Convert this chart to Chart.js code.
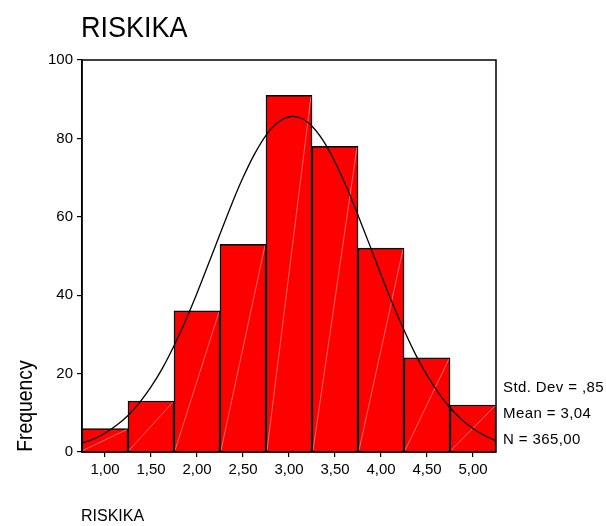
<!DOCTYPE html>
<html><head><meta charset="utf-8">
<script src="https://cdn.jsdelivr.net/npm/chart.js@4"></script>
<style>html,body{margin:0;padding:0;background:#fff;} #wrap{position:relative;width:606px;height:526px;}</style>
</head><body><div id="wrap"><canvas id="c" width="606" height="526"></canvas></div>
<script>
const chartTitle = 'RISKIKA';
const xAxisLabel = 'RISKIKA';
const yAxisLabel = 'Frequency';
const binLabels = ['1,00','1,50','2,00','2,50','3,00','3,50','4,00','4,50','5,00'];
const frequencies = [6, 13, 36, 53, 91, 78, 52, 24, 12];
// normal curve (x in data units, y in frequency)
const curveX = [0.75,0.875,1.0,1.125,1.25,1.375,1.5,1.625,1.75,1.875,2.0,2.125,2.25,2.375,2.5,2.625,2.75,2.875,3.0,3.125,3.25,3.375,3.5,3.625,3.75,3.875,4.0,4.125,4.25,4.375,4.5,4.625,4.75,4.875,5.0,5.125,5.25];
const curveY = [2.3,3.3,4.8,6.8,9.3,12.6,16.6,21.4,27.1,33.5,40.5,48.0,55.6,63.1,70.0,76.0,80.8,84.0,85.5,85.2,83.1,79.3,74.0,67.6,60.4,52.9,45.3,37.9,31.1,24.9,19.6,15.1,11.3,8.3,6.0,4.2,2.9];
const statsLines = ['Std. Dev = ,85', 'Mean = 3,04', 'N = 365,00'];
const yMin = 0, yMax = 100, yStep = 20;
const xMin = 0.75, xMax = 5.25;

const FONT = "'Liberation Sans', Arial, Helvetica, sans-serif";

const decor = {
  id: 'decor',
  afterDatasetDraw(chart, args) {
    if (args.index !== 0) return;
    const ctx = chart.ctx;
    const meta = chart.getDatasetMeta(0);
    ctx.save();
    ctx.strokeStyle = 'rgba(255,255,255,0.5)';
    ctx.lineWidth = 0.8;
    meta.data.forEach(el => {
      const p = el.getProps(['x','y','base','width'], true);
      const l = p.x - p.width / 2 + 1, r = p.x + p.width / 2 - 1;
      ctx.beginPath();
      ctx.moveTo(l, p.base - 1);
      ctx.lineTo(r, p.y + 1);
      ctx.stroke();
    });
    ctx.restore();
  },
  afterDraw(chart) {
    const ctx = chart.ctx, a = chart.chartArea;
    ctx.save();
    ctx.strokeStyle = '#000';
    ctx.lineWidth = 1.5;
    ctx.strokeRect(a.left, a.top, a.right - a.left, a.bottom - a.top);
    ctx.fillStyle = '#000';
    ctx.textBaseline = 'alphabetic';
    ctx.textAlign = 'left';
    // title
    ctx.save();
    ctx.translate(81, 37);
    ctx.scale(0.9, 1);
    ctx.font = '30px ' + FONT;
    ctx.fillText(chartTitle, 0, 0);
    ctx.restore();
    // x axis label
    ctx.font = '16px ' + FONT;
    ctx.fillText(xAxisLabel, 81, 521);
    // y axis label
    ctx.save();
    ctx.translate(32, 406);
    ctx.rotate(-Math.PI / 2);
    ctx.scale(0.88, 1);
    ctx.textAlign = 'center';
    ctx.font = '22px ' + FONT;
    ctx.fillText(yAxisLabel, 0, 0);
    ctx.restore();
    // stats
    ctx.font = '15px ' + FONT;
    ctx.textBaseline = 'middle';
    try { ctx.letterSpacing = '0.4px'; } catch (e) {}
    const ys = [388, 414, 440];
    statsLines.forEach((t, i) => ctx.fillText(t, 503, ys[i]));
    ctx.restore();
  }
};

new Chart(document.getElementById('c'), {
  type: 'bar',
  data: {
    labels: binLabels,
    datasets: [
      {
        type: 'bar',
        data: frequencies,
        backgroundColor: '#ff0000',
        borderColor: '#000',
        borderWidth: 1.5,
        barPercentage: 1.0,
        categoryPercentage: 1.0,
        grouped: false,
        xAxisID: 'x',
        order: 2
      },
      {
        type: 'line',
        data: curveX.map((x, i) => ({ x: x, y: curveY[i] })),
        xAxisID: 'x2',
        borderColor: '#000',
        borderWidth: 1.3,
        pointRadius: 0,
        tension: 0.3,
        fill: false,
        order: 1
      }
    ]
  },
  options: {
    responsive: false,
    animation: false,
    devicePixelRatio: 1,
    layout: { padding: { top: 60, right: 110, left: 0, bottom: 0 } },
    plugins: { legend: { display: false }, tooltip: { enabled: false }, title: { display: false } },
    scales: {
      x: {
        type: 'category',
        offset: true,
        grid: { offset: false, drawOnChartArea: false, drawTicks: true, tickLength: 5, color: '#000', lineWidth: 1.2 },
        border: { display: true, color: '#000', width: 1.5 },
        ticks: { color: '#000', font: { family: FONT, size: 15 }, padding: 4, maxRotation: 0, autoSkip: false },
        afterFit: s => { s.height = 74; }
      },
      x2: { type: 'linear', min: xMin, max: xMax, offset: false, display: false },
      y: {
        min: yMin, max: yMax,
        grid: { drawOnChartArea: false, drawTicks: true, tickLength: 5, color: '#000', lineWidth: 1.2 },
        border: { display: true, color: '#000', width: 1.5 },
        ticks: { stepSize: yStep, color: '#000', font: { family: FONT, size: 15 }, padding: 4 },
        afterFit: s => { s.width = 82; }
      }
    }
  },
  plugins: [decor]
});
</script></body></html>
